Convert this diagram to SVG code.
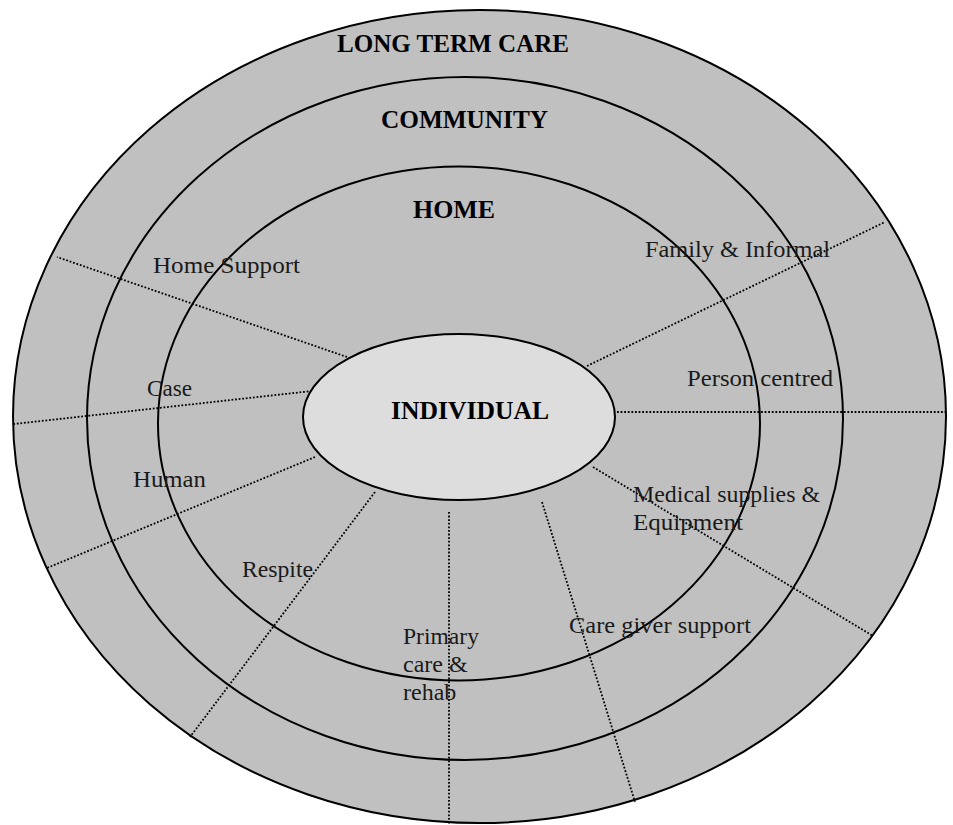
<svg xmlns="http://www.w3.org/2000/svg" width="953" height="825" viewBox="0 0 953 825">
  <style>
    .ring { fill: #c0c0c0; stroke: #000; stroke-width: 2; }
    .core { fill: #dddddd; stroke: #000; stroke-width: 2; }
    .spoke { fill: none; stroke: #000; stroke-width: 1.8; stroke-dasharray: 1.8 1.8; }
    .title { font-family: "Liberation Serif", "Times New Roman", serif; font-weight: bold; font-size: 25px; fill: #000; }
    .label { font-family: "Liberation Serif", "Times New Roman", serif; font-size: 24px; fill: #1a1a1a; }
  </style>
  <rect width="953" height="825" fill="#fff"/>

  <!-- concentric care levels -->
  <g id="long-term-care">
    <ellipse class="ring" cx="479.5" cy="416.5" rx="466.5" ry="406.5"/>
  </g>
  <g id="community">
    <ellipse class="ring" cx="465" cy="418.5" rx="378" ry="341.5"/>
  </g>
  <g id="home">
    <ellipse class="ring" cx="459" cy="423.5" rx="301" ry="257"/>
  </g>

  <!-- dotted spokes radiating from the individual -->
  <g id="connectors">
    <line class="spoke" x1="347" y1="357" x2="57" y2="257"/>
    <line class="spoke" x1="312" y1="391" x2="14" y2="424"/>
    <line class="spoke" x1="315" y1="457" x2="47" y2="568"/>
    <line class="spoke" x1="375" y1="492" x2="190" y2="737"/>
    <line class="spoke" x1="449" y1="512" x2="449" y2="825"/>
    <line class="spoke" x1="542" y1="502" x2="635" y2="802"/>
    <line class="spoke" x1="593" y1="467" x2="873" y2="636"/>
    <line class="spoke" x1="617" y1="412" x2="947" y2="412"/>
    <line class="spoke" x1="587" y1="366" x2="885" y2="222"/>
  </g>

  <g id="individual">
    <ellipse class="core" cx="459" cy="417" rx="156" ry="83"/>
    <text class="title" x="391" y="419" textLength="158" lengthAdjust="spacingAndGlyphs">INDIVIDUAL</text>
  </g>

  <!-- level titles -->
  <g id="level-titles">
    <text class="title" x="337" y="52" textLength="232" lengthAdjust="spacingAndGlyphs">LONG TERM CARE</text>
    <text class="title" x="381" y="128" textLength="167" lengthAdjust="spacingAndGlyphs">COMMUNITY</text>
    <text class="title" x="413" y="218" textLength="82" lengthAdjust="spacingAndGlyphs">HOME</text>
  </g>

  <!-- service labels -->
  <g id="services">
    <text class="label" x="153" y="273" textLength="147" lengthAdjust="spacingAndGlyphs">Home Support</text>
    <text class="label" x="147" y="396" textLength="45" lengthAdjust="spacingAndGlyphs">Case</text>
    <text class="label" x="133" y="487" textLength="73" lengthAdjust="spacingAndGlyphs">Human</text>
    <text class="label" x="242" y="577" textLength="71" lengthAdjust="spacingAndGlyphs">Respite</text>
    <text class="label" x="403" y="644" textLength="76" lengthAdjust="spacingAndGlyphs">Primary</text>
    <text class="label" x="403" y="672">care &amp;</text>
    <text class="label" x="403" y="700">rehab</text>
    <text class="label" x="569" y="633" textLength="182" lengthAdjust="spacingAndGlyphs">Care giver support</text>
    <text class="label" x="633" y="502" textLength="187" lengthAdjust="spacingAndGlyphs">Medical supplies &amp;</text>
    <text class="label" x="633" y="530" textLength="110" lengthAdjust="spacingAndGlyphs">Equipment</text>
    <text class="label" x="687" y="386" textLength="146" lengthAdjust="spacingAndGlyphs">Person centred</text>
    <text class="label" x="645" y="257" textLength="185" lengthAdjust="spacingAndGlyphs">Family &amp; Informal</text>
  </g>
</svg>
